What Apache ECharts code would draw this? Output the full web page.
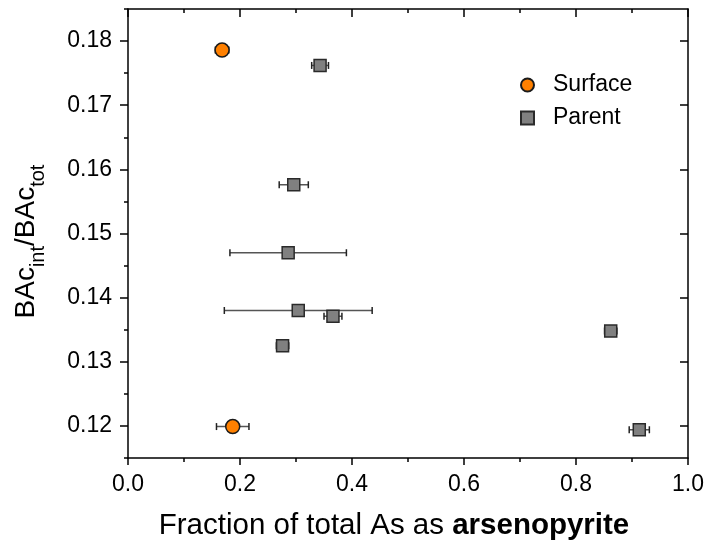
<!DOCTYPE html>
<html><head><meta charset="utf-8">
<script src="https://cdn.jsdelivr.net/npm/echarts@6/dist/echarts.min.js"></script>
<style>html,body{margin:0;padding:0;background:#fff}#c{width:710px;height:546px}</style>
</head><body><div id="c"></div>
<script>
// ---- data ----
const xTicks = [0.0, 0.2, 0.4, 0.6, 0.8, 1.0];
const yTicks = [0.12, 0.13, 0.14, 0.15, 0.16, 0.17, 0.18];
const yMinorTicks = [0.115, 0.125, 0.135, 0.145, 0.155, 0.165, 0.175, 0.185];

const surfaceX    = [0.168, 0.187];
const surfaceY    = [0.1786, 0.1199];
const surfaceXErr = [0.012, 0.029];

const parentX    = [0.343, 0.296, 0.286, 0.304, 0.366, 0.276, 0.862, 0.913];
const parentY    = [0.1762, 0.1576, 0.1470, 0.1380, 0.1371, 0.1325, 0.1348, 0.1194];
const parentXErr = [0.015, 0.026, 0.104, 0.132, 0.016, 0.011, 0.011, 0.018];

const seriesNames = ['Surface', 'Parent'];

// ---- build ----
const FONT = 'Liberation Sans, Arial, sans-serif';
const zip = (xs, ys, es) => xs.map((x, i) => es ? [x, ys[i], es[i]] : [x, ys[i]]);

function errRender(params, api) {
  const x = api.value(0), y = api.value(1), e = api.value(2);
  const p0 = api.coord([x - e, y]), p1 = api.coord([x + e, y]);
  const cap = 3.5;
  return {
    type: 'group',
    children: [
      { type: 'line', shape: { x1: p0[0], y1: p0[1], x2: p1[0], y2: p1[1] }, style: { stroke: '#555', lineWidth: 1.5 } },
      { type: 'line', shape: { x1: p0[0], y1: p0[1] - cap, x2: p0[0], y2: p0[1] + cap }, style: { stroke: '#222', lineWidth: 1.5 } },
      { type: 'line', shape: { x1: p1[0], y1: p1[1] - cap, x2: p1[0], y2: p1[1] + cap }, style: { stroke: '#222', lineWidth: 1.5 } }
    ]
  };
}

const axisLine = { show: true, onZero: false, lineStyle: { color: '#000', width: 1.5 } };
const tickStyle = { color: '#000', width: 1.5 };
const yMin = yMinorTicks[0], yMax = yMinorTicks[yMinorTicks.length - 1];

const option = {
  backgroundColor: '#fff',
  animation: false,
  grid: { left: 128, right: 22, top: 9, bottom: 87, containLabel: false },
  legend: {
    data: seriesNames,
    orient: 'vertical',
    left: 515, top: 68,
    itemWidth: 13, itemHeight: 13, itemGap: 9,
    textStyle: { fontFamily: FONT, fontSize: 23, color: '#000', lineHeight: 24, padding: [0, 0, 0, 14] }
  },
  xAxis: [
    {
      type: 'value', position: 'bottom', min: xTicks[0], max: xTicks[xTicks.length - 1], interval: 0.2,
      axisLine: axisLine,
      axisTick: { show: true, inside: false, length: 7, lineStyle: tickStyle },
      minorTick: { show: true, splitNumber: 2, length: 4, lineStyle: tickStyle },
      splitLine: { show: false },
      axisLabel: { fontFamily: FONT, fontSize: 23, color: '#000', margin: 15, formatter: v => v.toFixed(1) },
      name: '{n|Fraction of total As as }{b|arsenopyrite}',
      nameLocation: 'middle', nameGap: 53,
      nameTextStyle: {
        padding: [0, 28, 0, 0],
        rich: {
          n: { fontFamily: FONT, fontSize: 29.5, color: '#000' },
          b: { fontFamily: FONT, fontSize: 29.5, color: '#000', fontWeight: 'bold' }
        }
      }
    },
    {
      type: 'value', position: 'top', min: xTicks[0], max: xTicks[xTicks.length - 1], interval: 0.2,
      axisLine: axisLine,
      axisTick: { show: true, inside: true, length: 8, lineStyle: tickStyle },
      minorTick: { show: true, splitNumber: 2, length: 4, lineStyle: tickStyle },
      splitLine: { show: false },
      axisLabel: { show: false }
    }
  ],
  yAxis: [
    {
      type: 'value', position: 'left', min: yMin, max: yMax,
      axisLine: axisLine,
      axisTick: { show: true, inside: false, length: 8, lineStyle: tickStyle, customValues: yTicks },
      splitLine: { show: false },
      axisLabel: { fontFamily: FONT, fontSize: 23, color: '#000', margin: 16, customValues: yTicks, formatter: v => v.toFixed(2) },
      name: '{m|BAc}{s|int}{m|/BAc}{s|tot}',
      nameLocation: 'middle', nameRotate: 90, nameGap: 80,
      nameTextStyle: {
        padding: [0, 16, 0, 0],
        rich: {
          m: { fontFamily: FONT, fontSize: 28, color: '#000', lineHeight: 44, verticalAlign: 'middle' },
          s: { fontFamily: FONT, fontSize: 20, color: '#000', lineHeight: 12, verticalAlign: 'bottom' }
        }
      }
    },
    {
      type: 'value', position: 'left', min: yMin, max: yMax, interval: 0.005,
      axisLine: { show: false },
      axisTick: { show: true, inside: false, length: 4, lineStyle: tickStyle },
      splitLine: { show: false },
      axisLabel: { show: false }
    },
    {
      type: 'value', position: 'right', min: yMin, max: yMax,
      axisLine: axisLine,
      axisTick: { show: true, inside: true, length: 8, lineStyle: tickStyle, customValues: yTicks },
      splitLine: { show: false },
      axisLabel: { show: false }
    },
    {
      type: 'value', position: 'right', min: yMin, max: yMax, interval: 0.005,
      axisLine: { show: false },
      axisTick: { show: true, inside: true, length: 4, lineStyle: tickStyle },
      splitLine: { show: false },
      axisLabel: { show: false }
    }
  ],
  series: [
    {
      type: 'custom', name: 'surfErr', xAxisIndex: 0, yAxisIndex: 0, z: 1,
      renderItem: errRender, encode: { x: 0, y: 1 },
      data: zip(surfaceX, surfaceY, surfaceXErr), silent: true
    },
    {
      type: 'custom', name: 'parErr', xAxisIndex: 0, yAxisIndex: 0, z: 1,
      renderItem: errRender, encode: { x: 0, y: 1 },
      data: zip(parentX, parentY, parentXErr), silent: true
    },
    {
      type: 'scatter', name: seriesNames[0], xAxisIndex: 0, yAxisIndex: 0, z: 3,
      symbol: 'circle', symbolSize: 14,
      itemStyle: { color: '#FF8000', borderColor: '#1a1a1a', borderWidth: 1.5, opacity: 1 },
      data: zip(surfaceX, surfaceY)
    },
    {
      type: 'scatter', name: seriesNames[1], xAxisIndex: 0, yAxisIndex: 0, z: 2,
      symbol: 'rect', symbolSize: 12,
      itemStyle: { color: '#808080', borderColor: '#2a2a2a', borderWidth: 1.5, opacity: 1 },
      data: zip(parentX, parentY)
    }
  ]
};

const chart = echarts.init(document.getElementById('c'), null, { renderer: 'canvas' });
chart.setOption(option);
</script>
</body></html>
